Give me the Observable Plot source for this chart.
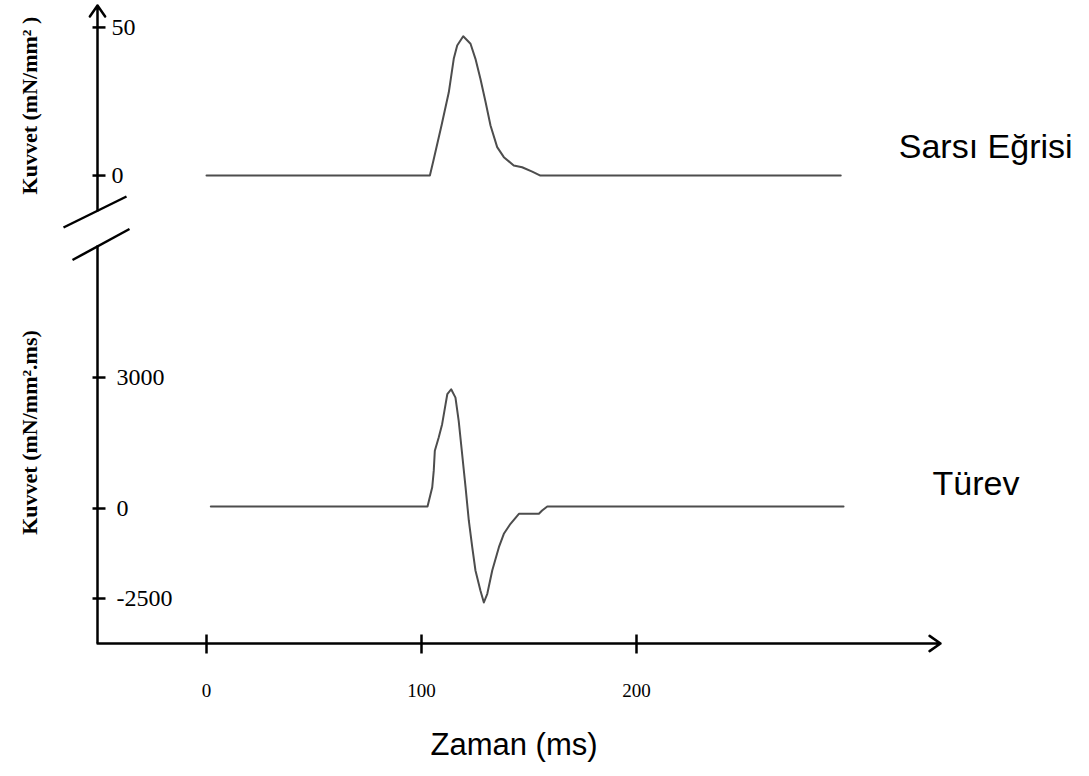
<!DOCTYPE html>
<html>
<head>
<meta charset="utf-8">
<script src="https://cdn.jsdelivr.net/npm/d3@7"></script>
<script src="https://cdn.jsdelivr.net/npm/@observablehq/plot@0.6"></script>
<style>
html, body { margin: 0; padding: 0; background: #fff; }
#chart { position: relative; width: 1089px; height: 776px; overflow: hidden; background: #fff; }
#chart svg { position: absolute; left: 0; top: 0; }
</style>
</head>
<body>
<div id="chart"></div>
<script>
// ---------- data ----------
// Sarsı Eğrisi (force, mN/mm²) over time (ms)
const timeTop  = [0, 103.9, 105.5, 109.3, 112.7, 115.0, 116.6, 119.4, 122.8, 125.1, 127.4, 129.8, 132.1, 135.2, 138.3, 142.9, 146.8, 151.5, 155.3, 295];
const forceTop = [0, 0,     4.9,   16.9,  28.1,  39.4,  43.9,  47.0,  44.5,  39.4,  32.7,  24.8,  16.9,  9.6,   6.2,   3.4,   2.8,   1.3,   0,     0];

// Türev (mN/mm².ms) over time (ms)
const timeBottom = [2, 102.8, 105.0, 105.7, 106.2, 108.0, 109.6, 111.2, 112.0, 113.8, 115.8, 117.3, 118.9, 120.5, 122.0, 123.6, 125.1, 127.4, 129.0, 130.6, 132.9, 136.0, 138.3, 141.4, 145.3, 154.6, 156.1, 158.5, 296.3];
const rateBottom = [46, 46,   486,   867,   1323,  1627,  1932,  2389,  2617,  2731,  2539,  2008,  1248,  486,   -333,  -1075, -1722, -2278, -2611, -2369, -1722, -1075, -703,  -425,  -147,  -147,  -56,   46,    46];

const seriesNames = ["Sarsı Eğrisi", "Türev"];
const xTicks = [0, 100, 200];
const xTickLabels = ["0", "100", "200"];
const topTicks = [0, 50];
const topTickLabels = ["0", "50"];
const bottomTicks = [-2500, 0, 3000];
const bottomTickLabels = ["-2500", "0", "3000"];
const topTitle = "Kuvvet (mN/mm² )";
const bottomTitle = "Kuvvet (mN/mm².ms)";
const xTitle = "Zaman (ms)";

// ---------- layout ----------
const W = 1089, H = 776;
const xDomain = [-50.7, 341.4];          // axis origin .. arrow tip
const topDomain = [-11.8, 57.4];         // axis break .. arrow tip
const topRange = [210, 5];
// the original draws negative derivative values on a compressed scale
const negRatio = 0.8245;
const squash = v => (v < 0 ? v * negRatio : v);
const bottomAxisBase = -3750;            // x-axis level
const bottomAxisTop = 6012;              // axis break
const bottomRange = [643, 245.5];
const topTitleY = 23.6, bottomTitleY = 1741;
const serif = "Liberation Serif, Times New Roman, serif";
const sans = "Liberation Sans, Arial, sans-serif";
const curveColor = "#4d4d4d";

const topTable = timeTop.map((t, i) => ({t, v: forceTop[i]}));
const bottomTable = timeBottom.map((t, i) => ({t, v: rateBottom[i]}));

const hTick = {draw(ctx) { ctx.moveTo(-5, 0); ctx.lineTo(8, 0); }};
const vTick = {draw(ctx) { ctx.moveTo(0, -9); ctx.lineTo(0, 10); }};
const slashUpper = {draw(ctx) { ctx.moveTo(-34, 17); ctx.lineTo(29, -14); }};
const slashLower = {draw(ctx) { ctx.moveTo(-25, 14); ctx.lineTo(32, -17); }};

const common = {
  width: W, height: H,
  marginLeft: 97, marginRight: W - 940, marginTop: 0, marginBottom: 0,
  style: {background: "transparent", color: "black", overflow: "visible"}
};

const topPlot = Plot.plot({
  ...common,
  x: {domain: xDomain, axis: null},
  y: {domain: topDomain, range: topRange, axis: null},
  marks: [
    Plot.arrow([0], {x1: xDomain[0], x2: xDomain[0], y1: topDomain[0], y2: topDomain[1], stroke: "black", strokeWidth: 2.5, headLength: 8, headAngle: 70}),
    Plot.dot(topTicks, {x: xDomain[0], y: d => d, symbol: hTick, fill: "none", stroke: "black", strokeWidth: 2.5}),
    Plot.dot([topDomain[0]], {x: xDomain[0], y: d => d, symbol: slashUpper, fill: "none", stroke: "black", strokeWidth: 2.5}),
    Plot.text(topTicks, {x: xDomain[0], y: d => d, text: (d, i) => topTickLabels[i], dx: 14, textAnchor: "start", fontFamily: serif, fontSize: 24}),
    Plot.text([topTitle], {x: xDomain[0], y: topTitleY, rotate: -90, dx: -68, fontFamily: serif, fontWeight: "bold", fontSize: 22}),
    Plot.line(topTable, {x: "t", y: "v", stroke: curveColor, strokeWidth: 2}),
    Plot.text([topTable[topTable.length - 1]], {x: "t", y: "v", text: () => seriesNames[0], dx: 58, dy: -28, textAnchor: "start", fontFamily: sans, fontSize: 34})
  ]
});

const bottomPlot = Plot.plot({
  ...common,
  x: {domain: xDomain, axis: null},
  y: {transform: squash, domain: [squash(bottomAxisBase), squash(bottomAxisTop)], range: bottomRange, axis: null},
  marks: [
    Plot.ruleX([xDomain[0]], {x: d => d, y1: bottomAxisBase, y2: bottomAxisTop, stroke: "black", strokeWidth: 2.5}),
    Plot.arrow([0], {x1: xDomain[0], x2: xDomain[1], y1: bottomAxisBase, y2: bottomAxisBase, stroke: "black", strokeWidth: 2.5, headLength: 8, headAngle: 70}),
    Plot.dot([bottomAxisTop], {x: xDomain[0], y: d => d, symbol: slashLower, fill: "none", stroke: "black", strokeWidth: 2.5}),
    Plot.dot(bottomTicks, {x: xDomain[0], y: d => d, symbol: hTick, fill: "none", stroke: "black", strokeWidth: 2.5}),
    Plot.text(bottomTicks, {x: xDomain[0], y: d => d, text: (d, i) => bottomTickLabels[i], dx: 19, textAnchor: "start", fontFamily: serif, fontSize: 24}),
    Plot.text([bottomTitle], {x: xDomain[0], y: bottomTitleY, rotate: -90, dx: -68, fontFamily: serif, fontWeight: "bold", fontSize: 22}),
    Plot.dot(xTicks, {x: d => d, y: bottomAxisBase, symbol: vTick, fill: "none", stroke: "black", strokeWidth: 2.5}),
    Plot.text(xTicks, {x: d => d, y: bottomAxisBase, text: (d, i) => xTickLabels[i], dy: 47, fontFamily: serif, fontSize: 19}),
    Plot.text([xTitle], {frameAnchor: "bottom", dy: -22, dx: -5, fontFamily: sans, fontSize: 31}),
    Plot.line(bottomTable, {x: "t", y: "v", stroke: curveColor, strokeWidth: 2}),
    Plot.text([bottomTable[bottomTable.length - 1]], {x: "t", y: "v", text: () => seriesNames[1], dx: 89, dy: -22, textAnchor: "start", fontFamily: sans, fontSize: 34})
  ]
});

const chart = document.getElementById("chart");
chart.appendChild(topPlot);
chart.appendChild(bottomPlot);
</script>
</body>
</html>
